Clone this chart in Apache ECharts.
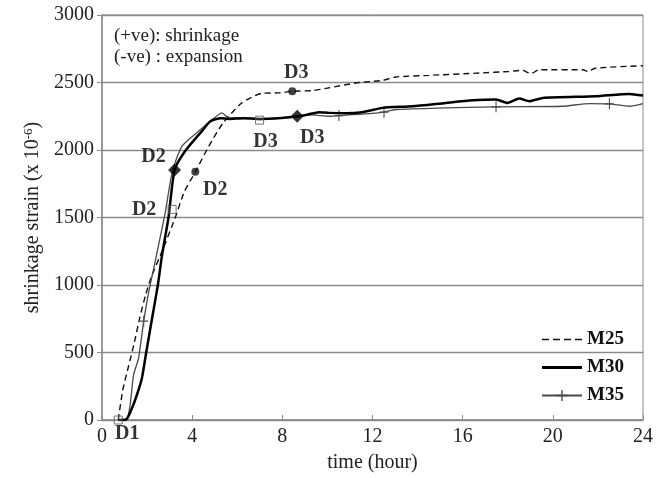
<!DOCTYPE html>
<html>
<head>
<meta charset="utf-8">
<script src="https://cdn.jsdelivr.net/npm/echarts@6/dist/echarts.min.js"></script>
<style>html,body{margin:0;padding:0;background:#fff}#c{width:667px;height:478px}</style>
</head>
<body>
<div id="c"></div>
<script>
// ---- data ----
var m25Time = [0.72,0.92,1.18,1.43,1.68,1.94,2.19,2.69,3.25,3.65,4.14,4.74,5.37,6.21,7.09,7.84,8.44,9.32,10.06,11.24,12.45,13.03,14.51,16.74,18.06,18.66,19.02,19.4,21.33,21.55,21.91,24];
var m25Val  = [0,220,400,570,760,930,1060,1260,1500,1690,1838,2029,2200,2350,2420,2423,2435,2440,2460,2496,2516,2541,2553,2570,2582,2590,2565,2595,2595,2582,2607,2624];

var m30Time = [0.72,1.08,1.33,1.55,1.77,1.95,2.22,2.48,2.66,2.95,3.22,3.69,4.43,4.81,5.27,5.63,6.28,6.99,7.8,8.66,9.11,9.62,10.06,10.83,11.54,12.44,13.77,15.25,16.44,17.48,17.99,18.51,18.95,19.55,21.91,23.4,24];
var m30Val  = [0,5,88,187,310,489,752,1002,1218,1500,1852,1992,2140,2213,2235,2230,2235,2230,2235,2250,2262,2280,2275,2272,2280,2312,2324,2349,2368,2374,2349,2381,2361,2386,2398,2415,2403];

var m35Time = [0.72,1.11,1.25,1.4,1.62,1.85,2.07,2.29,2.54,2.8,3.12,3.55,4.29,4.81,5.32,5.63,6.49,6.99,7.8,8.66,9.32,10.06,10.51,11.54,12.51,13.03,14.88,17.48,20.44,21.62,22.51,23.4,24];
var m35Val  = [0,10,113,334,457,732,948,1120,1320,1530,1840,2029,2140,2213,2275,2238,2238,2225,2235,2245,2260,2250,2255,2265,2280,2300,2310,2320,2324,2344,2342,2324,2344];
var m35PlusAt = [1.85,10.51,12.51,17.48,22.51];

// stage markers [time, value, label]
var m25Stages = [[4.14,1838,'D2'],[8.44,2435,'D3']];
var m30Stages = [[3.22,1852,'D2'],[8.66,2250,'D3']];
var m35Stages = [[3.11,1560,'D2'],[6.99,2221,'D3'],[0.72,0,'D1']];

var yTicks = [0,500,1000,1500,2000,2500,3000];
var xTicks = [0,4,8,12,16,20,24];

// ---- build ----
var SERIF = '"Liberation Serif","DejaVu Serif",serif';
var plusPath = 'path://M4.4,0H5.6V10H4.4ZM0,4.4H10V5.6H0Z';
var dashIcon = 'path://M0,0H7V1.6H0ZM11,0H18V1.6H11ZM22,0H29V1.6H22ZM33,0H40V1.6H33Z';
var solidIcon = 'path://M0,0H40V3H0Z';
function zip(t,v){return t.map(function(x,i){return [x,v[i]];});}
var m35Data = m35Time.map(function(t,i){
  return {value:[t,m35Val[i]], symbol: m35PlusAt.indexOf(t)>=0 ? plusPath : 'none'};
});
var labelOffsets = {
  'M25D2':[20,18],'M25D3':[4,-18],
  'M30D2':[-21,-13],'M30D3':[15,22],
  'M35D2':[-28,0],'M35D3':[6,22],'M35D1':[9,14]
};
function stageData(arr,key){
  return arr.map(function(s){
    return {value:[s[0],s[1]], name:s[2], label:{offset:labelOffsets[key+s[2]]}};
  });
}
var stageLabel = {show:true, position:'inside', formatter:'{b}', fontFamily:SERIF, fontWeight:'bold',
  fontSize:20, color:'#000', textBorderWidth:0, textBorderColor:'transparent'};

var chart = echarts.init(document.getElementById('c'));
chart.setOption({
  animation:false,
  backgroundColor:'#fff',
  grid:{left:102,right:24,top:15,bottom:55,show:true,borderColor:'#8a8a8a',borderWidth:1},
  legend:{
    data:[{name:'M25',icon:dashIcon},{name:'M30',icon:solidIcon},{name:'M35'}],
    orient:'vertical', left:536, top:325,
    itemWidth:40, itemHeight:14, itemGap:9,
    textStyle:{fontFamily:SERIF,fontWeight:'bold',fontSize:19,color:'#111'}
  },
  xAxis:{
    type:'value', min:xTicks[0], max:xTicks[xTicks.length-1], interval:4,
    name:'time (hour)', nameLocation:'middle', nameGap:33,
    nameTextStyle:{fontFamily:SERIF,fontSize:20,color:'#222'},
    axisLine:{show:true,lineStyle:{color:'#8a8a8a',width:1.5}},
    axisTick:{show:true,inside:true,length:5,lineStyle:{color:'#8a8a8a'}},
    axisLabel:{fontFamily:SERIF,fontSize:20,color:'#222',margin:7,formatter:function(v){return String(v);}},
    splitLine:{show:false}
  },
  yAxis:{
    type:'value', min:yTicks[0], max:yTicks[yTicks.length-1], interval:500,
    name:'shrinkage strain (x 10{sup|-6})', nameLocation:'middle', nameGap:56,
    nameTextStyle:{fontFamily:SERIF,fontSize:20,color:'#222',
      rich:{sup:{fontFamily:SERIF,fontSize:13,color:'#222',padding:[0,0,10,0]}}},
    axisLine:{show:true,lineStyle:{color:'#8a8a8a',width:1.5}},
    axisTick:{show:true,inside:false,length:5,lineStyle:{color:'#8a8a8a'}},
    axisLabel:{fontFamily:SERIF,fontSize:20,color:'#222',margin:8,formatter:function(v){return String(v);}},
    splitLine:{show:true,lineStyle:{color:'#8a8a8a',width:1.3}}
  },
  graphic:[
    {type:'text',left:114,top:27,style:{text:'(+ve): shrinkage',font:'19px '+SERIF,fill:'#222'}},
    {type:'text',left:114,top:48,style:{text:'(-ve) : expansion',font:'19px '+SERIF,fill:'#222'}}
  ],
  series:[
    {name:'M25',type:'line',data:zip(m25Time,m25Val),symbol:'none',smooth:0.2,
     lineStyle:{color:'#111',width:1.4,type:[6,4]},itemStyle:{color:'#111'},z:3},
    {name:'M30',type:'line',data:zip(m30Time,m30Val),symbol:'none',smooth:0.2,
     lineStyle:{color:'#000',width:2.5},itemStyle:{color:'#000'},z:4},
    {name:'M35',type:'line',data:m35Data,symbol:plusPath,symbolSize:[9,11],showSymbol:true,smooth:0.2,
     lineStyle:{color:'#4a4a4a',width:1.3},itemStyle:{color:'#4a4a4a'},z:3},
    {name:'M25 stages',type:'scatter',data:stageData(m25Stages,'M25'),symbol:'circle',symbolSize:8,
     itemStyle:{color:'#111'},label:stageLabel,z:6},
    {name:'M30 stages',type:'scatter',data:stageData(m30Stages,'M30'),symbol:'diamond',symbolSize:13,
     itemStyle:{color:'#000'},label:stageLabel,z:6},
    {name:'M35 stages',type:'scatter',data:stageData(m35Stages,'M35'),symbol:'rect',symbolSize:8,
     itemStyle:{color:'rgba(255,255,255,0.2)',borderColor:'#555',borderWidth:1},label:stageLabel,z:6}
  ]
});
</script>
</body>
</html>
